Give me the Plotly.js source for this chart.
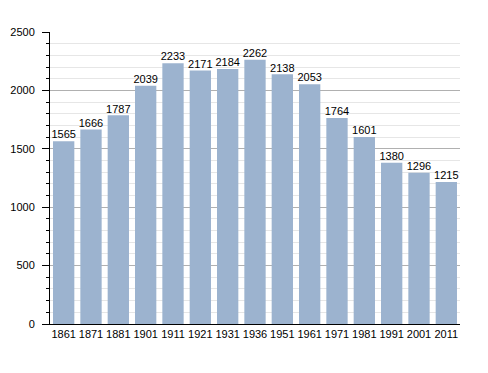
<!DOCTYPE html>
<html><head><meta charset="utf-8">
<script src="https://cdn.plot.ly/plotly-3.0.1.min.js"></script>
<style>body{margin:0;background:#fff}#c{width:488px;height:373px}</style>
</head><body><div id="c"></div>
<script>
const years = ["1861","1871","1881","1901","1911","1921","1931","1936","1951","1961","1971","1981","1991","2001","2011"];
const population = [1565,1666,1787,2039,2233,2171,2184,2262,2138,2053,1764,1601,1380,1296,1215];
const yTicks = [0,500,1000,1500,2000,2500];

Plotly.newPlot('c', [{
  type: 'bar', x: years, y: population,
  marker: {color: '#9cb3cf', line: {width: 0}},
  hoverinfo: 'none'
}, {
  type: 'scatter', mode: 'text', x: years, y: population,
  text: population.map(String), textposition: 'top center', cliponaxis: false,
  textfont: {family: 'Liberation Sans, Arial, sans-serif', size: 11, color: '#000'},
  hoverinfo: 'none'
}], {
  width: 488, height: 373,
  margin: {l: 50, r: 28, t: 32, b: 49},
  paper_bgcolor: '#fff', plot_bgcolor: '#fff',
  bargap: 0.22,
  showlegend: false,
  font: {family: 'Liberation Sans, Arial, sans-serif', size: 11, color: '#000'},
  xaxis: {type: 'category', range: [-0.5, years.length - 0.5], tickangle: 0,
    showline: true, linecolor: '#000', linewidth: 1,
    ticks: '', showgrid: false, tickfont: {size: 11}, fixedrange: true},
  yaxis: {range: [0, 2500], tickvals: yTicks, ticktext: yTicks.map(String),
    showline: true, linecolor: '#000', linewidth: 1, ticks: 'outside', ticklen: 7, tickcolor: '#000',
    ticklabelstandoff: 5,
    showgrid: true, gridcolor: '#b0b0b0', gridwidth: 1, zeroline: false,
    minor: {dtick: 100, ticks: 'outside', ticklen: 3, tickcolor: '#000', showgrid: true, gridcolor: '#e6e6e6', gridwidth: 1},
    tickfont: {size: 11}, fixedrange: true}
}, {staticPlot: true});
</script></body></html>
